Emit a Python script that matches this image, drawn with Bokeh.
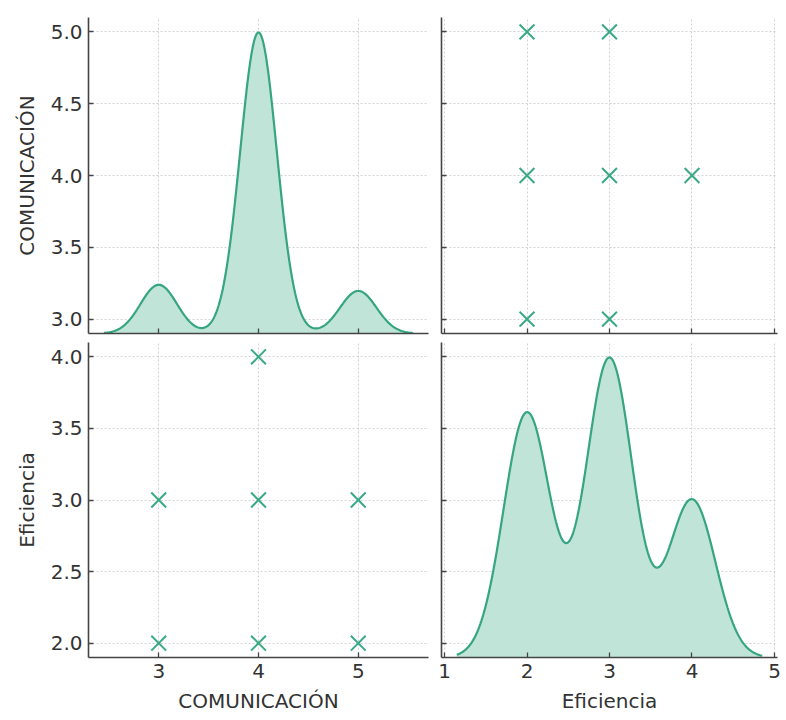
import numpy as np
from bokeh.plotting import figure
from bokeh.layouts import gridplot
from bokeh.models import Range1d, FixedTicker, NumeralTickFormatter, ColumnDataSource
from bokeh.embed import file_html
from bokeh.resources import INLINE

# ---- data (frequency table of observations) ----
com_vals = [3, 3, 4, 4, 4, 5, 5]          # COMUNICACIÓN
ef_vals = [2, 3, 2, 3, 4, 2, 3]           # Eficiencia
counts = [8, 8, 30, 40, 29, 7, 7]         # number of respondents per pair

com_ticks = [3, 4, 5]
com_yticks = [3.0, 3.5, 4.0, 4.5, 5.0]
ef_ticks = [1, 2, 3, 4, 5]
ef_yticks = [2.0, 2.5, 3.0, 3.5, 4.0]

LINE = "#35a582"
FILL = "#c1e4d8"
MARK = "#3aaa86"
TXT = "#333333"
FONT = "DejaVu Sans"


def kde(vals, cnts):
    x = np.repeat(np.asarray(vals, float), cnts)
    n = len(x)
    bw = x.std(ddof=1) * n ** (-0.2)
    grid = np.linspace(x.min() - 3 * bw, x.max() + 3 * bw, 300)
    dens = np.exp(-0.5 * ((grid[:, None] - x[None, :]) / bw) ** 2).sum(1) / (n * bw * np.sqrt(2 * np.pi))
    return grid, dens


com_g, com_d = kde(com_vals, counts)
ef_g, ef_d = kde(ef_vals, counts)


def pad(lo, hi, m=0.05):
    d = hi - lo
    return lo - m * d, hi + m * d


com_xr = pad(min(com_g.min(), min(com_vals)), max(com_g.max(), max(com_vals)))
ef_xr = pad(min(ef_g.min(), min(ef_vals)), max(ef_g.max(), max(ef_vals)))
com_yr = pad(min(com_vals), max(com_vals))
ef_yr = pad(min(ef_vals), max(ef_vals))


def style(p, xticks, yticks, show_x, show_y, xlabel=None, ylabel=None):
    p.outline_line_color = None
    p.background_fill_color = "white"
    p.border_fill_color = "white"
    p.xaxis.ticker = FixedTicker(ticks=xticks)
    p.yaxis.ticker = FixedTicker(ticks=yticks)
    p.yaxis.formatter = NumeralTickFormatter(format="0.0")
    p.xaxis.formatter = NumeralTickFormatter(format="0")
    for ax in (p.xaxis[0], p.yaxis[0]):
        ax.axis_line_color = "#444444"
        ax.axis_line_width = 1.6
        ax.major_tick_in = 5
        ax.major_tick_out = 0
        ax.major_tick_line_color = "#444444"
        ax.major_tick_line_width = 1.3
        ax.minor_tick_line_color = None
        ax.major_label_text_font = FONT
        ax.major_label_text_font_size = "20px"
        ax.major_label_text_color = TXT
        ax.axis_label_text_font = FONT
        ax.axis_label_text_font_size = "20px"
        ax.axis_label_text_font_style = "normal"
        ax.axis_label_text_color = TXT
    if not show_x:
        p.xaxis.major_label_text_font_size = "0px"
        p.xaxis.major_label_text_color = None
        p.xaxis.major_label_standoff = 0
    else:
        p.xaxis.major_label_standoff = 6
        p.xaxis.axis_label_standoff = 8
    if not show_y:
        p.yaxis.major_label_text_font_size = "0px"
        p.yaxis.major_label_text_color = None
        p.yaxis.major_label_standoff = 0
    else:
        p.yaxis.major_label_standoff = 6
        p.yaxis.axis_label_standoff = 9
    if xlabel:
        p.xaxis.axis_label = xlabel
    if ylabel:
        p.yaxis.axis_label = ylabel
    for g in (p.xgrid[0], p.ygrid[0]):
        g.grid_line_color = "#d2d2d2"
        g.grid_line_dash = "2 2"
        g.grid_line_width = 1


def make(w, h, bl, br, bt, bb, xr, yr):
    return figure(width=w, height=h, min_border_left=bl, min_border_right=br,
                  min_border_top=bt, min_border_bottom=bb,
                  x_range=Range1d(*xr), y_range=Range1d(*yr),
                  output_backend="svg", toolbar_location=None, tools="")


# top-left: KDE of COMUNICACIÓN
p1 = make(434, 337, 88, 6, 17, 4, com_xr, com_yr)
p1.extra_y_ranges = {"kde": Range1d(0, com_d.max() * 1.05)}
s1 = ColumnDataSource(dict(x=com_g, y=com_d, z=np.zeros_like(com_d)))
p1.varea(x="x", y1="z", y2="y", source=s1, fill_color=FILL, fill_alpha=1, y_range_name="kde")
p1.line(x="x", y="y", source=s1, line_color=LINE, line_width=2.2, y_range_name="kde")
style(p1, com_ticks, com_yticks, False, True, ylabel="COMUNICACIÓN")

# top-right: scatter Eficiencia (x) vs COMUNICACIÓN (y)
p2 = make(352, 337, 7, 9, 17, 4, ef_xr, com_yr)
p2.scatter(x=ef_vals, y=com_vals, marker="x", size=21, line_color=MARK, line_width=2.0)
style(p2, ef_ticks, com_yticks, False, False)

# bottom-left: scatter COMUNICACIÓN (x) vs Eficiencia (y)
p3 = make(434, 383, 88, 6, 5, 63, com_xr, ef_yr)
p3.scatter(x=com_vals, y=ef_vals, marker="x", size=21, line_color=MARK, line_width=2.0)
style(p3, com_ticks, ef_yticks, True, True, xlabel="COMUNICACIÓN", ylabel="Eficiencia")

# bottom-right: KDE of Eficiencia
p4 = make(352, 383, 7, 9, 5, 63, ef_xr, ef_yr)
p4.extra_y_ranges = {"kde": Range1d(0, ef_d.max() * 1.05)}
s4 = ColumnDataSource(dict(x=ef_g, y=ef_d, z=np.zeros_like(ef_d)))
p4.varea(x="x", y1="z", y2="y", source=s4, fill_color=FILL, fill_alpha=1, y_range_name="kde")
p4.line(x="x", y="y", source=s4, line_color=LINE, line_width=2.2, y_range_name="kde")
style(p4, ef_ticks, ef_yticks, True, False, xlabel="Eficiencia")

grid = gridplot([[p1, p2], [p3, p4]], toolbar_location=None)

open("out.html", "w").write(file_html(grid, INLINE))
